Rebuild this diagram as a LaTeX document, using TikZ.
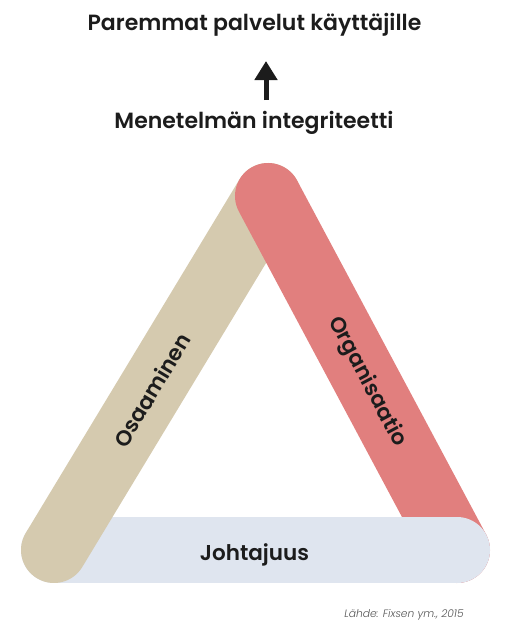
\documentclass[tikz,border=0pt]{standalone}
\usepackage{fontspec}
\setmainfont{Poppins}
\newfontfamily\popsb{Poppins SemiBold}
\newfontfamily\popit{Poppins Light Italic}
\usetikzlibrary{arrows.meta}
\definecolor{beige}{HTML}{D5CAAF}
\definecolor{rose}{HTML}{E17F7E}
\definecolor{pale}{HTML}{DFE5EF}
\definecolor{ink}{HTML}{1C1C1C}
\definecolor{note}{HTML}{555555}
\tikzset{
  bar/.style={line width=66pt, line cap=round},
  title/.style={font=\popsb\fontsize{22}{25}\selectfont, text=ink, inner sep=0pt},
  barlabel/.style={font=\popsb\fontsize{21.5}{24}\selectfont, text=ink, inner sep=0pt},
  source/.style={font=\popit\fontsize{10.7}{12}\selectfont, text=note, inner sep=0pt},
}
\begin{document}
\begin{tikzpicture}[x=1pt,y=-1pt]
\useasboundingbox (0,0) rectangle (514,640);
\coordinate (apex) at (268,196);
\coordinate (left) at (54,550);
\coordinate (right) at (457,550);
% bars
\draw[bar, pale] (left) -- (right);
\draw[bar, beige] (left) -- (apex);
\draw[bar, rose] (apex) -- (right);
\begin{scope}
  \clip (320,470) rectangle (514,620);
  \draw[bar, pale] (left) -- (right);
\end{scope}
% texts
\node[title] (goal) at (254.5,25) {Paremmat palvelut käyttäjille};
\node[title] (integ) at (254,123) {Menetelmän integriteetti};
\coordinate (abot) at (266,100);
\coordinate (atop) at (266,61);
\draw[line width=5pt, ink, -{Triangle[width=22pt,length=19pt]}] (abot) -- (atop);
\node[barlabel, rotate=58.9] (osa) at (152,390) {Osaaminen};
\node[barlabel, rotate=-62] (org) at (367,382) {Organisaatio};
\node[barlabel] (joh) at (254.5,555) {Johtajuus};
\node[source] (src) at (404,615) {Lähde: Fixsen ym., 2015};
\end{tikzpicture}
\end{document}
